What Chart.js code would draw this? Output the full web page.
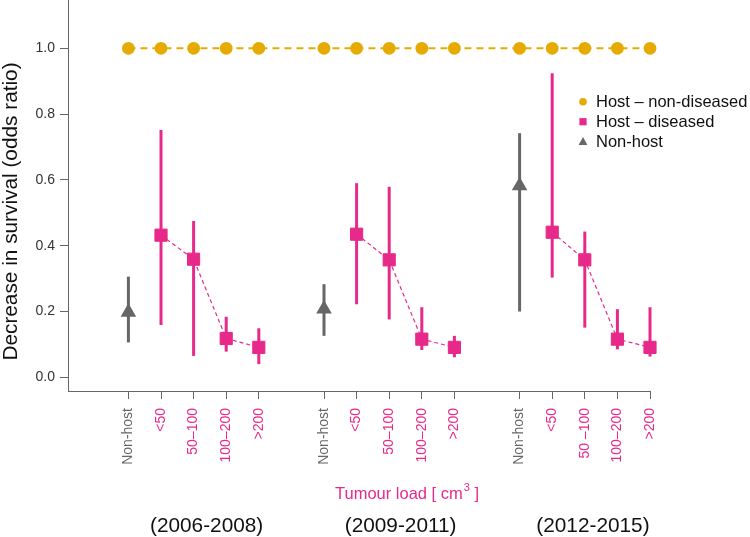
<!DOCTYPE html>
<html>
<head>
<meta charset="utf-8">
<script src="https://cdn.jsdelivr.net/npm/chart.js@4/dist/chart.umd.min.js"></script>
<style>
  html, body { margin: 0; padding: 0; background: #ffffff; }
  #wrap { width: 750px; height: 537px; position: relative; }
</style>
</head>
<body>
<div id="wrap"><canvas id="c" width="750" height="537"></canvas></div>
<script>
// ---------------- data ----------------
const categories = ['Non-host', '<50', '50–100', '100–200', '>200', '',
                    'Non-host', '<50', '50–100', '100–200', '>200', '',
                    'Non-host', '<50', '50 –100', '100–200', '>200'];
const periods = ['(2006-2008)', '(2009-2011)', '(2012-2015)'];
const yTickValues = [0, 0.2, 0.4, 0.6, 0.8, 1.0];

// category index of each series' points
const nonDiseasedIdx = [0, 1, 2, 3, 4, 6, 7, 8, 9, 10, 12, 13, 14, 15, 16];
const nonDiseasedOR  = [1, 1, 1, 1, 1, 1, 1, 1, 1, 1, 1, 1, 1, 1, 1];

const diseasedIdx = [1, 2, 3, 4, 7, 8, 9, 10, 13, 14, 15, 16];
const diseasedOR  = [0.432, 0.359, 0.118, 0.091, 0.435, 0.357, 0.116, 0.091, 0.441, 0.357, 0.116, 0.091];
const diseasedLo  = [0.159, 0.065, 0.078, 0.040, 0.222, 0.176, 0.083, 0.061, 0.303, 0.151, 0.085, 0.063];
const diseasedHi  = [0.752, 0.475, 0.184, 0.149, 0.590, 0.579, 0.213, 0.126, 0.924, 0.443, 0.207, 0.213];

const nonHostIdx = [0, 6, 12];
const nonHostOR  = [0.198, 0.208, 0.582];
const nonHostLo  = [0.106, 0.126, 0.200];
const nonHostHi  = [0.306, 0.283, 0.742];

// ---------------- styles ----------------
const ORANGE = '#E6AB02';
const PINK = '#E7298A';
const GREY = '#666666';
const AXIS = '#666666';
const FONT = '"Liberation Sans", Arial, Helvetica, sans-serif';

// build point lists (pink line broken between periods)
const nonDiseasedPts = nonDiseasedIdx.map((x, i) => ({ x, y: nonDiseasedOR[i] }));
const diseasedPts = [];
diseasedIdx.forEach((x, i) => {
  if (i > 0 && x - diseasedIdx[i - 1] > 1) diseasedPts.push({ x: x - 1, y: null });
  diseasedPts.push({ x, y: diseasedOR[i] });
});
const nonHostPts = nonHostIdx.map((x, i) => ({ x, y: nonHostOR[i] }));

// error bars through the chart scales
const errorBars = {
  id: 'errorBars',
  beforeDatasetsDraw(chart) {
    const { ctx, scales: { x, y } } = chart;
    ctx.save();
    ctx.lineWidth = 3;
    ctx.lineCap = 'butt';
    const draw = (idx, lo, hi, color) => {
      ctx.strokeStyle = color;
      idx.forEach((v, i) => {
        const px = x.getPixelForValue(v);
        ctx.beginPath();
        ctx.moveTo(px, y.getPixelForValue(lo[i]));
        ctx.lineTo(px, y.getPixelForValue(hi[i]));
        ctx.stroke();
      });
    };
    draw(nonHostIdx, nonHostLo, nonHostHi, GREY);
    draw(diseasedIdx, diseasedLo, diseasedHi, PINK);
    ctx.restore();
  }
};

// legend, axis titles and period labels
const annotations = {
  id: 'annotations',
  afterDraw(chart) {
    const { ctx, scales: { x } } = chart;
    ctx.save();
    // legend
    const lx = 583, ly = [101.7, 121.7, 141.7];
    ctx.fillStyle = ORANGE;
    ctx.beginPath(); ctx.arc(lx, ly[0], 3.8, 0, Math.PI * 2); ctx.fill();
    ctx.fillStyle = PINK;
    ctx.fillRect(lx - 3.6, ly[1] - 3.6, 7.2, 7.2);
    ctx.fillStyle = GREY;
    ctx.beginPath();
    ctx.moveTo(lx, ly[2] - 4.6); ctx.lineTo(lx + 4.4, ly[2] + 3.2); ctx.lineTo(lx - 4.4, ly[2] + 3.2);
    ctx.closePath(); ctx.fill();
    ctx.fillStyle = '#111111';
    ctx.font = '16.5px ' + FONT;
    ctx.textAlign = 'left';
    ctx.textBaseline = 'middle';
    ['Host – non-diseased', 'Host – diseased', 'Non-host'].forEach((t, i) => ctx.fillText(t, 596, ly[i] + 0.5));

    // y axis title
    ctx.save();
    ctx.translate(17.3, 211.5);
    ctx.rotate(-Math.PI / 2);
    ctx.textAlign = 'center';
    ctx.textBaseline = 'alphabetic';
    ctx.font = '20.8px ' + FONT;
    ctx.fillStyle = '#111111';
    ctx.fillText('Decrease in survival (odds ratio)', 0, 0);
    ctx.restore();

    // x axis title with superscript
    ctx.fillStyle = PINK;
    ctx.textAlign = 'left';
    ctx.textBaseline = 'alphabetic';
    let tx = 335;
    const by = 499;
    ctx.font = '16.5px ' + FONT;
    const p1 = 'Tumour load [ cm';
    ctx.fillText(p1, tx, by); tx += ctx.measureText(p1).width + 1;
    ctx.font = '11px ' + FONT;
    ctx.fillText('3', tx, by - 8); tx += ctx.measureText('3').width;
    ctx.font = '16.5px ' + FONT;
    ctx.fillText(' ]', tx, by);

    // period labels
    ctx.fillStyle = '#111111';
    ctx.textAlign = 'center';
    ctx.font = '20.8px ' + FONT;
    const anchors = [2.4, 8.35, 14.25];
    periods.forEach((t, i) => ctx.fillText(t, x.getPixelForValue(anchors[i]), 532));
    ctx.restore();
  }
};

const xTickValues = categories.map((c, i) => i).filter(i => categories[i] !== '');

new Chart(document.getElementById('c'), {
  type: 'line',
  data: {
    datasets: [
      {
        label: 'Host – non-diseased',
        data: nonDiseasedPts,
        borderColor: ORANGE,
        backgroundColor: ORANGE,
        borderWidth: 2,
        borderDash: [7, 5],
        pointStyle: 'circle',
        pointRadius: 6.4,
        pointBorderWidth: 0,
        pointBackgroundColor: ORANGE,
        clip: false,
        order: 3
      },
      {
        label: 'Host – diseased',
        data: diseasedPts,
        borderColor: PINK,
        backgroundColor: PINK,
        borderWidth: 1.2,
        borderDash: [4, 3],
        spanGaps: false,
        pointStyle: 'rect',
        pointRadius: 8.6,
        pointBorderWidth: 1,
        pointBorderColor: PINK,
        pointBackgroundColor: PINK,
        clip: false,
        order: 2
      },
      {
        label: 'Non-host',
        data: nonHostPts,
        showLine: false,
        borderColor: GREY,
        backgroundColor: GREY,
        pointStyle: 'triangle',
        pointRadius: 9,
        pointBorderWidth: 0,
        pointBackgroundColor: GREY,
        clip: false,
        order: 1
      }
    ]
  },
  options: {
    responsive: false,
    animation: false,
    devicePixelRatio: 1,
    layout: { autoPadding: false, padding: { top: 0, right: 100, bottom: 0, left: 0 } },
    plugins: { legend: { display: false }, tooltip: { enabled: false } },
    scales: {
      x: {
        type: 'linear',
        min: -1.853,
        max: 16,
        afterBuildTicks: s => { s.ticks = xTickValues.map(v => ({ value: v })); },
        afterFit: s => { s.height = 146; s.paddingLeft = 0; s.paddingRight = 0; },
        border: { display: true, color: AXIS, width: 1 },
        grid: { display: true, drawOnChartArea: false, drawTicks: true, tickLength: 8, color: AXIS, lineWidth: 1 },
        ticks: {
          autoSkip: false,
          minRotation: 90,
          maxRotation: 90,
          padding: 9,
          font: { family: FONT, size: 14 },
          color: c => (categories[c.tick.value] === 'Non-host' ? GREY : PINK),
          callback: v => categories[v]
        }
      },
      y: {
        type: 'linear',
        min: -0.0416,
        max: 1.1468,
        afterBuildTicks: s => { s.ticks = yTickValues.map(v => ({ value: v })); },
        afterFit: s => { s.width = 68; s.paddingTop = 0; s.paddingBottom = 0; },
        border: { display: true, color: AXIS, width: 1 },
        grid: { display: true, drawOnChartArea: false, drawTicks: true, tickLength: 8, color: AXIS, lineWidth: 1 },
        ticks: {
          padding: 5,
          font: { family: FONT, size: 14 },
          color: '#333333',
          callback: v => v.toFixed(1)
        }
      }
    }
  },
  plugins: [errorBars, annotations]
});
</script>
</body>
</html>
